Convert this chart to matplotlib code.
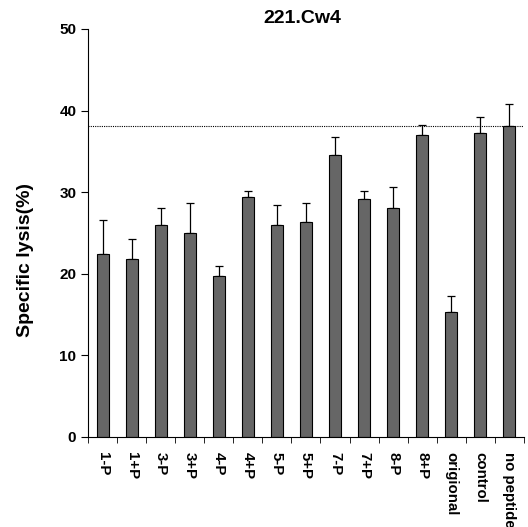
import numpy as np
import matplotlib.pyplot as plt

plt.rcParams['font.family'] = ['Liberation Sans', 'DejaVu Sans']
plt.rcParams['font.weight'] = 'bold'

labels = ['1-P', '1+P', '3-P', '3+P', '4-P', '4+P', '5-P', '5+P',
          '7-P', '7+P', '8-P', '8+P', 'origional', 'control', 'no peptide']
lysis = [22.4, 21.8, 26.0, 25.0, 19.7, 29.4, 26.0, 26.4,
         34.6, 29.2, 28.0, 37.0, 15.3, 37.3, 38.1]
err_top = [26.6, 24.3, 28.1, 28.7, 20.9, 30.1, 28.4, 28.7,
           36.8, 30.2, 30.6, 38.2, 17.3, 39.2, 40.8]
reference_level = 38.1

fig = plt.figure(figsize=(5.28, 5.27), dpi=100)
ax = fig.add_axes([0.167, 0.171, 0.825, 0.774])

x = np.arange(len(labels))
up = np.array(err_top) - np.array(lysis)
ax.bar(x, lysis, width=0.42, color='#666666', edgecolor='black', linewidth=0.8, zorder=2)
ax.errorbar(x, lysis, yerr=[np.zeros(len(x)), up], fmt='none',
            ecolor='black', elinewidth=0.9, capsize=3, capthick=0.9, zorder=1)
ax.axhline(reference_level, color='black', linestyle=(0, (1, 1)), linewidth=0.8, zorder=3)

ax.set_xlim(-0.5, len(labels) - 0.5)
ax.set_ylim(0, 50)
ax.set_yticks([0, 10, 20, 30, 40, 50])
ax.set_xticks(x)
ax.set_xticklabels(labels, rotation=270, fontsize=10.8, fontweight='bold')
ax.set_xticks(np.arange(-0.5, len(labels), 1), minor=True)
ax.tick_params(axis='x', which='major', length=0, pad=11)
ax.tick_params(axis='x', which='minor', length=4, direction='out')
ax.tick_params(axis='y', labelsize=11, length=5)
for t in ax.get_yticklabels():
    t.set_fontweight('bold')

ax.spines['top'].set_visible(False)
ax.spines['right'].set_visible(False)
fig.text(0.048, 0.507, 'Specific lysis(%)', fontsize=14, fontweight='bold',
         rotation=90, ha='center', va='center')
fig.text(0.572, 0.965, '221.Cw4', fontsize=14, fontweight='bold', ha='center', va='center')

fig.savefig('out.png', dpi=100)
